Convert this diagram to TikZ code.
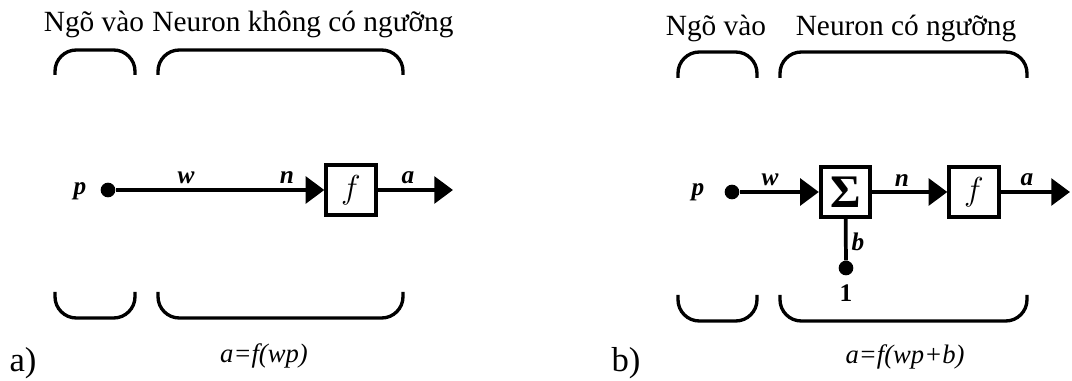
\documentclass[tikz,border=0pt]{standalone}
\usepackage{fontspec}
\setmainfont{Liberation Serif}
\usetikzlibrary{arrows.meta}

\tikzset{
  brace/.style={line width=2.5pt, rounded corners=16pt},
  wire/.style={line width=2.8pt, -{Triangle[length=14pt,width=20pt]}},
  dot/.style={circle, fill, inner sep=0pt, minimum size=11pt},
  box/.style={draw, line width=3pt, minimum size=37pt, inner sep=0pt},
  lbl/.style={font=\fontsize{19}{21}\selectfont\bfseries\itshape},
  title/.style={font=\fontsize{22}{24}\selectfont, anchor=base},
  eqn/.style={font=\fontsize{20}{22}\selectfont\itshape},
  tag/.style={font=\fontsize{26}{28}\selectfont}
}

\begin{document}
\begin{tikzpicture}[x=0.75pt, y=-0.75pt]
  \useasboundingbox (0,0) rectangle (1072,381);
  \node[title] (in1) at (94,32) {Ngõ vào};
  \node[title] (neu1) at (303,32) {Neuron không có ngưỡng};
  \draw[brace] (55,75) -- (55,50) -- (135,50) -- (135,75);
  \draw[brace] (158,75) -- (158,50) -- (403,50) -- (403,75);
  \node[lbl] (p1lbl) at (80,191) {p};
  \node[dot] (p1) at (108,190) {};
  \node[box] (f1) at (351,190) {\fontsize{27}{30}\selectfont$f$};
  \coordinate (out1) at (453,190);
  \draw[wire] (p1) -- (f1);
  \draw[wire] (f1) -- (out1);
  \node[lbl] (w1) at (186,178) {w};
  \node[lbl] (n1) at (287,178) {n};
  \node[lbl] (a1) at (408,178) {a};
  \draw[brace] (55,292) -- (55,318) -- (135,318) -- (135,292);
  \draw[brace] (158,292) -- (158,318) -- (403,318) -- (403,292);
  \node[eqn] (eq1) at (264,356) {a=f(wp)};
  \node[tag] (tag1) at (23,363) {a)};

  \node[title] (in2) at (716,36) {Ngõ vào};
  \node[title] (neu2) at (906,36) {Neuron có ngưỡng};
  \draw[brace] (678,78) -- (678,52) -- (757,52) -- (757,78);
  \draw[brace] (780,78) -- (780,52) -- (1027,52) -- (1027,78);
  \node[lbl] (p2lbl) at (698,192) {p};
  \node[dot] (p2) at (732,192) {};
  \node[box] (sum) at (845.5,192) {\fontsize{35}{40}\selectfont\bfseries Σ};
  \node[box] (f2) at (974,192) {\fontsize{27}{30}\selectfont$f$};
  \node[dot] (one) at (846,268) {};
  \coordinate (out2) at (1070,192);
  \draw[wire] (p2) -- (sum);
  \draw[wire] (sum) -- (f2);
  \draw[wire] (f2) -- (out2);
  \draw[line width=2.8pt] (one) -- (sum);
  \node[lbl] (w2) at (770,180) {w};
  \node[lbl] (n2) at (902,181) {n};
  \node[lbl] (a2) at (1027,180) {a};
  \node[lbl] (b2) at (858,242) {b};
  \node[font=\fontsize{19}{21}\selectfont\bfseries] (onelbl) at (846,293) {1};
  \draw[brace] (678,295) -- (678,321) -- (757,321) -- (757,295);
  \draw[brace] (780,295) -- (780,321) -- (1027,321) -- (1027,295);
  \node[eqn] (eq2) at (905,357) {a=f(wp+b)};
  \node[tag] (tag2) at (626,363) {b)};
\end{tikzpicture}
\end{document}
